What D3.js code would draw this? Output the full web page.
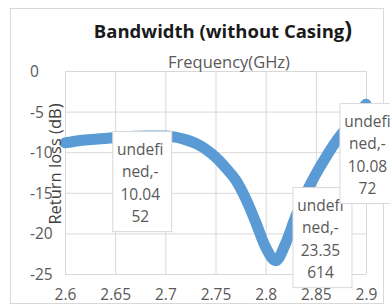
<!DOCTYPE html>
<html>
<head>
<meta charset="utf-8">
<script src="https://cdn.jsdelivr.net/npm/d3@7"></script>
<style>
  body { margin: 0; background: #fff; }
  text { font-family: "Open Sans", "Noto Sans", sans-serif; }
</style>
</head>
<body>
<svg width="390" height="306"></svg>
<script>
let freq = [2.60, 2.61, 2.62, 2.63, 2.64, 2.65, 2.66, 2.67, 2.68, 2.69, 2.70,
  2.71, 2.72, 2.73, 2.74, 2.75, 2.76, 2.77, 2.78, 2.79, 2.80,
  2.81, 2.82, 2.83, 2.84, 2.85, 2.86, 2.87, 2.88, 2.89, 2.90];
let returnLoss = [-8.85, -8.65, -8.5, -8.4, -8.3, -8.2, -8.1, -8.05, -8.0, -8.0, -8.0,
  -8.15, -8.45, -8.9, -9.6, -10.6, -11.9, -13.4, -15.7, -18.6, -21.7,
  -23.36, -21.2, -17.9, -15.1, -12.7, -10.6, -8.7, -7.1, -5.6, -4.1];
let xTicks = [2.6, 2.65, 2.7, 2.75, 2.8, 2.85, 2.9];
let yTicks = [0, -5, -10, -15, -20, -25];
let labelLines = [
  ["undefi", "ned,-", "10.04", "52"],
  ["undefi", "ned,-", "23.35", "614"],
  ["undefi", "ned,-", "10.08", "72"]
];

let svg = d3.select("svg");
let plotL = 65, plotR = 366, plotT = 71, plotB = 274;
let grey = "#595959", gridColor = "#d9d9d9";

let x = d3.scaleLinear().domain([2.6, 2.9]).range([plotL, plotR]);
let y = d3.scaleLinear().domain([-25, 0]).range([plotB, plotT]);

// chart frame
svg.append("rect")
  .attr("x", 10.5).attr("y", 8.5)
  .attr("width", 373).attr("height", 295)
  .attr("fill", "#fff").attr("stroke", gridColor);

// gridlines + ticks
let xAxis = d3.axisBottom(x).tickValues(xTicks)
  .tickSize(-(plotB - plotT)).tickFormat(d => d3.format("")(d));
let gx = svg.append("g").attr("transform", `translate(0,${plotB})`).call(xAxis);
gx.select(".domain").remove();
gx.selectAll("line").attr("stroke", gridColor);
gx.selectAll("text").attr("fill", grey).attr("font-size", 15.5)
  .attr("y", 26).attr("dy", 0);

let yAxis = d3.axisLeft(y).tickValues(yTicks).tickSize(-(plotR - plotL)).tickFormat(d => d);
let gy = svg.append("g").attr("transform", `translate(${plotL},0)`).call(yAxis);
gy.select(".domain").remove();
gy.selectAll("line").attr("stroke", gridColor);
gy.selectAll("text").attr("fill", grey).attr("font-size", 15.5)
  .attr("text-anchor", "start").attr("x", 30 - plotL).attr("dy", "0.35em");
svg.selectAll("g").attr("font-family", null);

// curve
let line = d3.line()
  .x((d, i) => x(freq[i]))
  .y(d => y(d))
  .curve(d3.curveMonotoneX);

svg.append("path")
  .datum(returnLoss)
  .attr("d", line)
  .attr("fill", "none")
  .attr("stroke", "#5b9bd5")
  .attr("stroke-width", 11)
  .attr("stroke-linecap", "round")
  .attr("stroke-linejoin", "round");

// data labels
let labelPos = [[2.677, -7.4], [2.8566, -14.3], [2.9034, -3.95]];
let lbl = svg.selectAll(".lbl").data(labelLines).enter().append("g")
  .attr("class", "lbl")
  .attr("transform", (d, i) => `translate(${x(labelPos[i][0])},${y(labelPos[i][1])})`);
lbl.append("rect")
  .attr("x", -29.5).attr("y", 0.5).attr("width", 59).attr("height", 100)
  .attr("fill", "#fff").attr("stroke", gridColor);
lbl.selectAll("text").data(d => d).enter().append("text")
  .attr("text-anchor", "middle")
  .attr("x", -2)
  .attr("y", (d, i) => 23.5 + i * 22.6)
  .attr("fill", grey)
  .attr("font-size", 15.5)
  .text(d => d);

// titles
let title = svg.append("text")
  .attr("x", 223).attr("y", 38)
  .attr("text-anchor", "middle")
  .attr("font-size", 18.5).attr("font-weight", "bold")
  .attr("fill", "#1a1a1a");
title.append("tspan").text("Bandwidth (without Casing");
title.append("tspan").attr("font-size", 23).text(")");

svg.append("text")
  .attr("x", 229).attr("y", 68)
  .attr("text-anchor", "middle")
  .attr("font-size", 16.5)
  .attr("fill", grey)
  .text("Frequency(GHz)");

svg.append("text")
  .attr("transform", "translate(61,164) rotate(-90)")
  .attr("text-anchor", "middle")
  .attr("font-size", 16.5)
  .attr("fill", "#404040")
  .text("Return loss (dB)");
</script>
</body>
</html>
